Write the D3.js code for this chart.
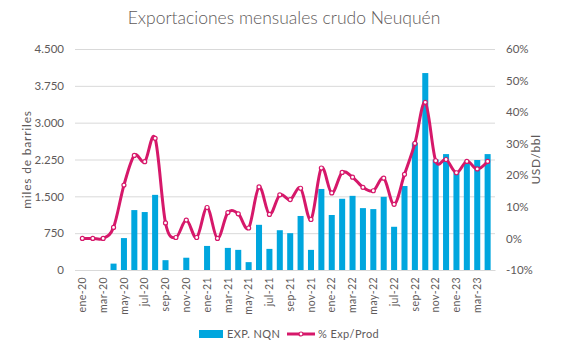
<!DOCTYPE html>
<html>
<head>
<meta charset="utf-8">
<script src="https://cdn.jsdelivr.net/npm/d3@7"></script>
<style>
  body { margin: 0; background: #fff; }
  text { font-family: Lato, "Open Sans", sans-serif; fill: #605a5a; }
</style>
</head>
<body>
<div id="viz"></div>
<script>
const months = ["ene-20","feb-20","mar-20","abr-20","may-20","jun-20","jul-20","ago-20","sep-20","oct-20","nov-20","dic-20",
                "ene-21","feb-21","mar-21","abr-21","may-21","jun-21","jul-21","ago-21","sep-21","oct-21","nov-21","dic-21",
                "ene-22","feb-22","mar-22","abr-22","may-22","jun-22","jul-22","ago-22","sep-22","oct-22","nov-22","dic-22",
                "ene-23","feb-23","mar-23","abr-23"]
// miles de barriles
const exports = [0,0,0,130,650,1220,1180,1530,200,0,250,0,
                 490,0,450,410,160,920,430,810,750,1100,410,1650,
                 1120,1450,1510,1260,1240,1490,880,1710,2590,4010,2250,2360,
                 2000,2220,2240,2360]
// % Exp/Prod
const pctExp = [0,0,0,3.5,16.9,26.3,24.3,31.7,4.9,0.3,5.8,0.3,
                9.8,0,8.2,7.8,3.3,16.3,7.6,13.8,12.3,15.9,6.0,22.3,
                14.4,20.9,19.4,16.2,15.1,19.1,10.8,20.3,30.1,43.1,24.6,25.0,
                20.8,24.4,22.0,24.4]
const leftTicks = [0,750,1500,2250,3000,3750,4500]
const rightTicks = [-10,0,10,20,30,40,50,60]

const width = 567
const height = 354
const margin = {top: 49, right: 72, bottom: 84, left: 75}

const blue = "#00a6de"
const pink = "#d6186a"

const svg = d3.select("#viz").append("svg")
              .attr("width", width)
              .attr("height", height)

const xScale = d3.scaleBand()
                 .domain(months)
                 .range([margin.left, width - margin.right])
                 .padding(0.42)

const yScale = d3.scaleLinear()
                 .domain([0, 4500])
                 .range([height - margin.bottom, margin.top])

const y2Scale = d3.scaleLinear()
                  .domain([-10, 60])
                  .range([height - margin.bottom, margin.top])

// gridlines follow the left axis
svg.append("g")
   .selectAll("line")
   .data(leftTicks)
   .join("line")
   .attr("x1", margin.left)
   .attr("x2", width - margin.right)
   .attr("y1", d => yScale(d) + 0.5)
   .attr("y2", d => yScale(d) + 0.5)
   .attr("stroke", "#d9d9d9")
   .attr("stroke-width", 1)

// bars
svg.append("g")
   .selectAll("rect")
   .data(exports)
   .join("rect")
   .attr("x", (d, i) => xScale(months[i]))
   .attr("y", d => yScale(d))
   .attr("width", xScale.bandwidth())
   .attr("height", d => yScale(0) - yScale(d))
   .attr("fill", blue)

// left axis
const yAxis = d3.axisLeft(yScale)
                .tickValues(leftTicks)
                .tickSize(0)
                .tickPadding(11)
                .tickFormat(d => d3.format(",")(d).replace(",", "."))
svg.append("g")
   .attr("transform", `translate(${margin.left},0)`)
   .call(yAxis)
   .call(g => g.select(".domain").remove())
   .selectAll("text")
   .style("font-size", "11.5px")

// right axis
const y2Axis = d3.axisRight(y2Scale)
                 .tickValues(rightTicks)
                 .tickSize(0)
                 .tickPadding(11)
                 .tickFormat(d => d + "%")
svg.append("g")
   .attr("transform", `translate(${width - margin.right},0)`)
   .call(y2Axis)
   .call(g => g.select(".domain").remove())
   .selectAll("text")
   .style("font-size", "11.5px")

// x axis, every other month
const xAxis = d3.axisBottom(xScale)
                .tickValues(months.filter((d, i) => i % 2 == 0))
                .tickSize(0)
                .tickPadding(0)
svg.append("g")
   .attr("transform", `translate(0,${height - margin.bottom})`)
   .call(xAxis)
   .call(g => g.select(".domain").attr("stroke", "#d9d9d9"))
   .selectAll("text")
   .style("font-size", "10.5px")
   .style("letter-spacing", "0.4px")
   .attr("text-anchor", "end")
   .attr("dy", "0.35em")
   .attr("transform", "translate(0,7) rotate(-90)")
   .attr("x", 0)
   .attr("y", 0)

// smoothed line
const line = d3.line()
               .x((d, i) => xScale(months[i]) + xScale.bandwidth() / 2)
               .y(d => y2Scale(d))
               .curve(d3.curveCardinal.tension(0))

svg.append("path")
   .datum(pctExp)
   .attr("d", line)
   .attr("fill", "none")
   .attr("stroke", pink)
   .attr("stroke-width", 3)

svg.append("g")
   .selectAll("circle")
   .data(pctExp)
   .join("circle")
   .attr("cx", (d, i) => xScale(months[i]) + xScale.bandwidth() / 2)
   .attr("cy", d => y2Scale(d))
   .attr("r", 2)
   .attr("fill", "#fff")
   .attr("stroke", pink)
   .attr("stroke-width", 1.2)

// title
svg.append("text")
   .attr("x", 284)
   .attr("y", 24)
   .attr("text-anchor", "middle")
   .style("font-size", "17.5px")
   .style("font-weight", 300)
   .text("Exportaciones mensuales crudo Neuquén")

// axis titles
svg.append("text")
   .attr("transform", `translate(31,${(margin.top + height - margin.bottom) / 2}) rotate(-90)`)
   .attr("text-anchor", "middle")
   .style("font-size", "12px")
   .style("letter-spacing", "0.8px")
   .text("miles de barriles")

svg.append("text")
   .attr("transform", `translate(540,${(margin.top + height - margin.bottom) / 2}) rotate(-90)`)
   .attr("text-anchor", "middle")
   .style("font-size", "12px")
   .style("letter-spacing", "0.6px")
   .text("USD/bbl")

// legend
const legend = svg.append("g").attr("transform", "translate(199,334)")
legend.append("rect")
      .attr("x", 0).attr("y", -4)
      .attr("width", 24).attr("height", 8)
      .attr("fill", blue)
legend.append("text")
      .attr("x", 28).attr("y", 4)
      .style("font-size", "11px")
      .style("letter-spacing", "0.4px")
      .text("EXP. NQN")
legend.append("line")
      .attr("x1", 88).attr("x2", 116)
      .attr("y1", 0).attr("y2", 0)
      .attr("stroke", pink).attr("stroke-width", 3)
legend.append("circle")
      .attr("cx", 102).attr("cy", 0).attr("r", 2)
      .attr("fill", "#fff").attr("stroke", pink).attr("stroke-width", 1.2)
legend.append("text")
      .attr("x", 119).attr("y", 4)
      .style("font-size", "11px")
      .style("letter-spacing", "0.4px")
      .text("% Exp/Prod")
</script>
</body>
</html>
